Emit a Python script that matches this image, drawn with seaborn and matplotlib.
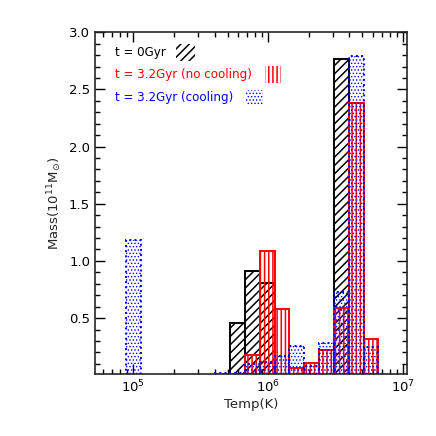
import numpy as np
import matplotlib
matplotlib.use("Agg")
import matplotlib.pyplot as plt
from matplotlib.patches import Rectangle
from matplotlib.ticker import MultipleLocator, LogLocator, NullFormatter
import seaborn as sns

# log10(T) bin edges shared by all three histograms
log_edges = [4.947, 5.057, 5.167, 5.277, 5.387, 5.497, 5.607, 5.717, 5.827,
             5.937, 6.047, 6.157, 6.267, 6.377, 6.487, 6.597, 6.707, 6.817]

# mass per bin in 1e11 Msun
mass_t0 = [0, 0, 0, 0, 0, 0, 0, 0.46, 0.91, 0.81, 0, 0, 0, 0, 2.77, 0, 0]
mass_nocool = [0, 0, 0, 0, 0, 0, 0, 0, 0.18, 1.09, 0.58, 0.06, 0.11, 0.22, 0.59, 2.38, 0.32]
mass_cool = [1.18, 0, 0, 0, 0, 0, 0.02, 0.02, 0.10, 0.12, 0.17, 0.26, 0.08, 0.28, 0.73, 2.79, 0.25]

labels = ["t = 0Gyr", "t = 3.2Gyr (no cooling)", "t = 3.2Gyr (cooling)"]
colors = ["black", "red", "blue"]
hatches = ["////", "||||", "....."]
styles = ["-", "-", ":"]
hatch_lw = [1.1, 1.1, 0.6]

sns.set_style("ticks")
plt.rcParams["font.family"] = ["DejaVu Sans"]

fig = plt.figure(figsize=(4.36, 4.36), dpi=100)
ax = fig.add_axes([0.218, 0.142, 0.715, 0.784])

centers = 10 ** ((np.array(log_edges[:-1]) + np.array(log_edges[1:])) / 2)
for mass, c, h, ls, hl in zip([mass_t0, mass_nocool, mass_cool], colors, hatches, styles, hatch_lw):
    plt.rcParams["hatch.linewidth"] = hl
    sns.histplot(x=centers, weights=mass, bins=log_edges, log_scale=True,
                 element="bars", fill=False, color=c, hatch=h, linestyle=ls,
                 linewidth=1.4, ax=ax)

ax.set_xlim(5.2e4, 1.065e7)
ax.set_ylim(0.01, 3.0)
ax.set_yticks([0.5, 1.0, 1.5, 2.0, 2.5, 3.0])
ax.yaxis.set_major_formatter(matplotlib.ticker.FormatStrFormatter("%.1f"))
ax.yaxis.set_minor_locator(MultipleLocator(0.1))
ax.xaxis.set_major_locator(LogLocator(base=10))
ax.xaxis.set_minor_locator(LogLocator(base=10, subs=np.arange(2, 10)))
ax.xaxis.set_minor_formatter(NullFormatter())

ax.tick_params(which="both", direction="in", top=True, right=True, width=1.0,
               labelsize=9.5, colors="black")
ax.tick_params(which="major", length=7)
ax.tick_params(which="minor", length=3.5)
for sp in ax.spines.values():
    sp.set_linewidth(1.2)
    sp.set_visible(True)

ax.set_xlabel("Temp(K)", fontsize=9.5, labelpad=2)
ax.set_ylabel(r"Mass(10$^{11}$M$_{\odot}$)", fontsize=9.5, labelpad=4)

# legend: coloured text followed by a hatched swatch
text_y = [0.941, 0.876, 0.808]
swatch_x = [0.261, 0.546, 0.485]
swatch_w = [0.06, 0.05, 0.055]
for lab, c, h, hl, ty, sx, sw in zip(labels, colors, hatches, hatch_lw, text_y, swatch_x, swatch_w):
    plt.rcParams["hatch.linewidth"] = hl
    ax.text(0.064, ty, lab, color=c, fontsize=8.6, transform=ax.transAxes, va="center")
    ax.add_patch(Rectangle((sx, ty - 0.024), sw, 0.048, transform=ax.transAxes,
                           facecolor="none", edgecolor=c, hatch=h, linewidth=0))

fig.savefig("out.png", dpi=100)
